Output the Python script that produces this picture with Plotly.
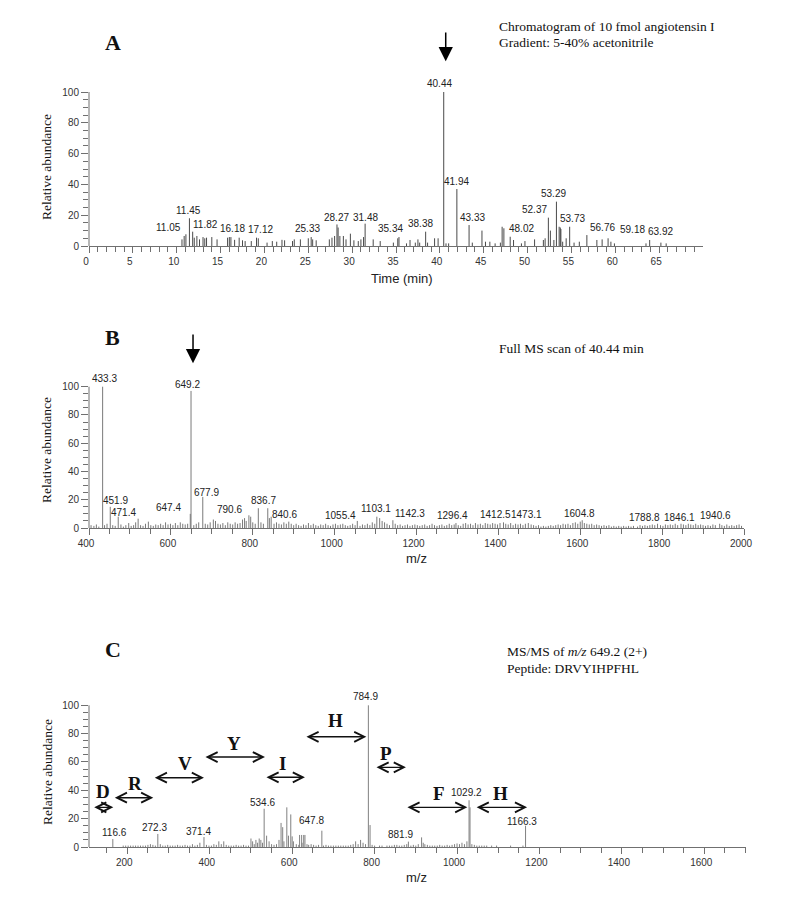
import plotly.graph_objects as go

# ---------------- data: panel A (chromatogram) ----------------
a_time = [10.6, 10.85, 11.05, 11.45, 11.82, 12.0, 12.3, 12.6, 13.0, 13.2, 13.4, 14.0, 14.6, 15.8, 16.0,
          16.18, 16.6, 17.12, 17.5, 17.8, 18.5, 19.1, 19.3, 20.3, 20.9, 21.4, 22.0, 22.3, 23.2, 23.4,
          24.1, 25.0, 25.33, 25.5, 25.9, 27.4, 27.7, 28.0, 28.27, 28.4, 28.6, 29.0, 29.3, 29.8, 30.2,
          30.7, 31.0, 31.3, 31.48, 32.4, 33.2, 34.7, 35.2, 35.34, 36.2, 36.6, 37.2, 37.5, 37.7, 38.38,
          38.6, 39.4, 39.8, 40.44, 40.7, 41.0, 41.94, 43.33, 43.7, 44.8, 45.2, 45.7, 46.3, 46.9, 47.1,
          47.3, 48.02, 48.4, 49.3, 49.7, 50.8, 51.8, 52.0, 52.37, 52.6, 53.0, 53.29, 53.6, 53.73, 53.8,
          54.0, 54.4, 54.8, 55.3, 55.9, 56.76, 57.9, 58.5, 59.18, 59.5, 59.9, 63.5, 63.92, 65.2, 65.8]
a_abund = [4.3, 6.5, 7.6, 18, 9.3, 5.4, 6.5, 4.3, 5.8, 5, 5.4, 5.8, 4.3, 5.4, 5.8,
           5.8, 4, 5.4, 3.7, 3.2, 3.2, 5.4, 5, 2.2, 3.2, 2.8, 4, 3.7, 3.2, 4.3,
           4.3, 5, 5.8, 4.3, 3.7, 4.3, 5.4, 6.5, 14, 12, 6.5, 6.5, 4.3, 8, 3.7,
           3.2, 4.3, 5.8, 14.5, 4.3, 3.2, 2.2, 5, 5.8, 1.7, 3.9, 2.2, 4.3, 2.2, 9.3,
           2.2, 5, 5, 100, 1.7, 1.7, 37, 13.6, 2.2, 10, 2.8, 2.8, 1.7, 2.2, 12.5,
           11.5, 6, 3.9, 1.7, 3.2, 4.3, 3.9, 5, 18.4, 10, 3.9, 28.8, 12.5, 12, 11,
           2.8, 5, 12.5, 2.2, 2.8, 7.1, 3.9, 4.3, 5, 2.8, 1.7, 1.7, 3.9, 2.2, 1.7]
a_labels = ["11.05", "11.45", "11.82", "16.18", "17.12", "25.33", "28.27", "31.48", "35.34", "38.38",
            "40.44", "41.94", "43.33", "48.02", "52.37", "53.29", "53.73", "56.76", "59.18", "63.92"]
a_label_y = [8.9, 20, 10.8, 8.2, 7.6, 8.2, 15.8, 15.8, 8.4, 11.5,
             102.4, 39, 15.8, 8.6, 20.6, 31, 15.1, 8.9, 7.6, 6.5]

# ---------------- data: panel B (full MS scan) ----------------
b_mz = [433.3, 451.9, 471.4, 520, 647.4, 649.2, 677.9, 703.7, 780, 790.6, 795, 813.6, 836.7, 840.6, 845,
        1055.4, 1103.1, 1142.3, 1296.4, 1412.5, 1473.1, 1604.8, 1788.8, 1846.1, 1940.6]
b_abund = [100, 15, 8, 6.6, 10, 97, 22, 6, 7, 9, 8, 14, 14, 7, 8,
           5, 8, 5.5, 3.5, 4, 3.5, 5.5, 3, 3, 3]
b_noise_mz = [405, 412, 418, 424, 438, 444, 458, 464, 478, 484, 490, 497, 503, 509, 514, 526, 532, 538, 545,
              551, 557, 563, 569, 575, 581, 587, 593, 599, 605, 611, 617, 623, 629, 635, 641, 656, 662, 668,
              684, 690, 696, 709, 715, 721, 727, 733, 739, 745, 751, 757, 763, 769, 775, 784, 800, 806, 820,
              826, 852, 858, 864, 870, 876, 882, 888, 894, 900, 906, 912, 918, 924, 930, 936, 942, 948, 954,
              960, 966, 972, 978, 984, 990, 996, 1002, 1008, 1014, 1020, 1026, 1032, 1038, 1044, 1050, 1062,
              1068, 1074, 1080, 1086, 1092, 1098, 1110, 1116, 1122, 1128, 1134, 1148, 1154, 1160, 1166, 1172,
              1178, 1184, 1190, 1196, 1202, 1208, 1214, 1220, 1226, 1232, 1238, 1244, 1250, 1256, 1262, 1268,
              1274, 1280, 1286, 1292, 1302, 1308, 1314, 1320, 1326, 1332, 1338, 1344, 1350, 1356, 1362, 1368,
              1374, 1380, 1386, 1392, 1398, 1404, 1418, 1424, 1430, 1436, 1442, 1448, 1454, 1460, 1466, 1480,
              1486, 1492, 1498, 1504, 1510, 1516, 1522, 1528, 1534, 1540, 1546, 1552, 1558, 1564, 1570, 1576,
              1582, 1588, 1594, 1600, 1610, 1616, 1622, 1628, 1634, 1640, 1646, 1652, 1658, 1664, 1670, 1676,
              1682, 1688, 1694, 1700, 1706, 1712, 1718, 1724, 1730, 1740, 1746, 1752, 1758, 1764, 1770, 1776,
              1782, 1796, 1802, 1808, 1814, 1820, 1826, 1832, 1838, 1852, 1858, 1864, 1870, 1876, 1882, 1888,
              1894, 1900, 1906, 1912, 1918, 1924, 1930, 1946, 1952, 1958, 1964, 1970, 1976, 1982, 1988, 1994]
b_noise_ab = [2, 1.5, 2.5, 1, 2, 3, 2, 1.5, 2.5, 1, 2, 3.5, 1.5, 2, 4, 2, 1.5, 3, 4.5,
              2, 1.5, 2.5, 2, 3, 2, 4, 2.5, 3, 2, 3.5, 2, 4, 3, 2.5, 3, 2, 3, 4,
              3, 2.5, 4, 5, 3, 2.5, 3.5, 2, 4, 3, 2.5, 4, 3, 3.5, 6, 5, 4, 3, 4,
              3, 3, 4, 3, 2.5, 4, 3, 4.5, 3, 2, 3, 2, 1.5, 2.5, 2, 3.5, 2, 3, 2,
              1.5, 2.5, 2, 3, 2, 1.5, 2.5, 3, 2, 2.5, 3, 2, 1.5, 2, 3, 2, 1.5,
              2.5, 2, 3, 2, 4, 3, 7, 5, 4, 3, 2, 3, 2, 2.5, 1.5, 2,
              2.5, 1.5, 2, 2.5, 2, 1.5, 2, 2.5, 1.5, 2, 3, 2, 1.5, 2, 2.5, 1.5,
              2, 3, 2, 2.5, 2, 1.5, 3, 3.5, 2.5, 3, 2, 3.5, 2.5, 3, 2, 3.5,
              3, 2.5, 3.5, 3, 2.5, 3.5, 3, 2.5, 3.5, 2, 3, 2.5, 3, 2, 3, 2.5,
              2, 1.5, 2, 1, 1.5, 1, 1.5, 2, 1.5, 2, 2.5, 2, 3, 2.5, 3, 2,
              3.5, 4, 3, 4.5, 3.5, 3, 2.5, 3, 2, 2.5, 2, 1.5, 2, 1.5, 2, 1,
              1.5, 1, 1.5, 1, 1.5, 1, 1.5, 1, 1.5, 1, 2, 1.5, 2, 1.5, 2, 2.5,
              2, 2, 1.5, 2.5, 2, 2.5, 2, 3, 2, 2.5, 2, 3, 2.5, 2, 3, 2,
              2.5, 2, 1.5, 2, 1.5, 2.5, 2, 2, 1.5, 2.5, 1.5, 2, 1.5, 2, 2.5, 1.5]
b_labels = ["433.3", "649.2", "451.9", "471.4", "647.4", "677.9", "790.6", "836.7", "840.6", "1055.4",
            "1103.1", "1142.3", "1296.4", "1412.5", "1473.1", "1604.8", "1788.8", "1846.1", "1940.6"]
b_label_y = [102.8, 98.2, 16.3, 7.6, 11.1, 22.2, 9.9, 16.3, 6.2, 5.7,
             10.4, 6.9, 5.7, 6.2, 6.2, 6.9, 4.5, 4.5, 5.7]

# ---------------- data: panel C (MS/MS) ----------------
c_mz = [164.8, 274, 386, 532, 573, 577, 587, 596.6, 600, 623, 631, 672, 784.9, 789, 882, 914,
        1029.2, 1031.5, 1166.3]
c_abund = [5.6, 9.2, 7, 27, 17, 14, 28, 23, 7.5, 8.5, 8.5, 11.5, 100, 15.5, 3.8, 6.8,
           33, 28, 15]
c_noise_mz = [190, 196, 202, 208, 214, 220, 226, 232, 238, 244, 250, 256, 262, 268, 280, 286, 292, 298,
              304, 310, 316, 322, 328, 334, 340, 346, 352, 358, 364, 370, 376, 392, 398, 404, 410, 416,
              422, 428, 434, 440, 446, 452, 458, 464, 470, 476, 482, 488, 494, 500, 504, 508, 512, 516,
              520, 524, 528, 538, 544, 550, 556, 562, 568, 580, 591, 603, 610, 616, 618, 624, 628, 636,
              640, 646, 652, 658, 664, 676, 682, 688, 694, 700, 706, 712, 718, 724, 730, 736, 742, 748,
              754, 760, 766, 772, 778, 794, 800, 812, 818, 830, 836, 842, 848, 854, 860, 866, 872, 878,
              888, 894, 900, 906, 918, 922, 928, 934, 940, 946, 952, 958, 964, 970, 976, 982, 988, 994,
              1000, 1006, 1012, 1018, 1024, 1036, 1042, 1048, 1054, 1060, 1066, 1072, 1084, 1096, 1130, 1160]
c_noise_ab = [1, 1, 1, 1, 1, 1, 1, 1, 1, 1, 1.5, 2, 1.5, 1, 2, 1, 1, 1.5,
              1, 1, 1, 1.5, 1, 1, 1.5, 1, 1, 2, 1, 1.5, 3, 1.5, 1, 1, 2, 1.5,
              4, 2, 4, 1.5, 1, 1, 1, 1.5, 1, 1, 1.5, 1, 1, 6, 4, 2, 5, 3,
              6, 5, 3, 8, 4, 2, 1.5, 2, 5, 4, 8, 4, 2, 1.5, 8.5, 3, 8.5, 2,
              1.5, 2, 1.5, 1, 1.5, 1, 1.5, 1, 1, 1, 1, 1, 1, 1, 1, 1, 1.5, 2,
              4, 2, 5, 3, 2, 1.5, 1, 1, 1, 1, 1, 1, 1.5, 1.5, 1, 1, 1.5, 2,
              1, 1.5, 1, 2, 3, 2, 1.5, 1, 1, 1, 1, 1.5, 1, 1, 1.5, 1, 1.5, 2,
              2.5, 2, 3, 2, 4, 2, 1.5, 1, 1, 1, 1, 1, 1, 1, 1, 1]
c_labels = ["116.6", "272.3", "371.4", "534.6", "647.8", "784.9", "881.9", "1029.2", "1166.3"]
c_label_y = [6.8, 10.8, 8, 28.4, 15.5, 103.2, 5.6, 35, 15]

# residues (mass-difference ladder): letter, start m/z, end m/z, abundance level
c_res = ["D", "R", "V", "Y", "I", "H", "P", "F", "H"]
c_res_from = [116, 166, 263, 386, 534, 631, 801, 876, 1044]
c_res_to = [166, 263, 386, 534, 631, 780, 876, 1025, 1170]
c_res_level = [28, 34.8, 48.9, 63.5, 49.2, 77.8, 56.2, 28, 28]

# ---------------- styles ----------------
a_label_dx = [-17, -1, 13, 2, 21, -4, 0, 0, -8, -5, -4, 0, 3, 11, -14, -3, 12, 16, 24, 11]
b_label_dx = [2, -4, 5, 5, -22, 4, -19, -4, 15, -17, -1, 17, -3, -8, -2, -3, -13, -2, -4]
c_label_dx = [22, -3, 1, -3, 0, -3, -8, -3, -4]
c_res_letter_dx = [0, 2, 6, 0, -2, 0, -4, 2, -1]
c_res_letter_dy = [11, 9.7, 10.1, 9.2, 9.8, 11.2, 9.8, 10, 10]

W, H = 796, 900
OFF = 8  # page body margin of the html page, compensated here
SANS = "Liberation Sans, Arial, sans-serif"
SERIF = "Liberation Serif, Times New Roman, serif"
AX = "#707070"


def fx(p):
    return (p - OFF) / W


def fy(p):
    return 1 - (p - OFF) / H


def sticks(xs, ys):
    X, Y = [], []
    for x, y in zip(xs, ys):
        X += [x, x, None]
        Y += [0, y, None]
    return X, Y


fig = go.Figure()
ax_ = sticks(a_time, a_abund)
fig.add_trace(go.Scatter(x=ax_[0], y=ax_[1], mode="lines", line=dict(color="#4a4a4a", width=1),
                         xaxis="x", yaxis="y", hoverinfo="skip"))
bx_ = sticks(b_noise_mz + b_mz, b_noise_ab + b_abund)
fig.add_trace(go.Scatter(x=bx_[0], y=bx_[1], mode="lines", line=dict(color="#7a7a7a", width=1),
                         xaxis="x2", yaxis="y2", hoverinfo="skip"))
cx_ = sticks(c_noise_mz + c_mz, c_noise_ab + c_abund)
fig.add_trace(go.Scatter(x=cx_[0], y=cx_[1], mode="lines", line=dict(color="#808080", width=1),
                         xaxis="x3", yaxis="y3", hoverinfo="skip"))


def xaxis(dom, rng, major, minor, anchor):
    return dict(domain=dom, range=rng, anchor=anchor, showline=True, linecolor=AX, linewidth=1,
                automargin=False,
                ticks="outside", ticklen=6, tickcolor=AX, tickwidth=1,
                tickmode="array", tickvals=major, ticktext=[str(v) for v in major],
                ticklabelshift=-3,
                tickfont=dict(family=SANS, size=10, color="#333"),
                minor=dict(tickmode="array", tickvals=minor, ticks="outside", ticklen=5,
                           tickcolor=AX, tickwidth=1, showgrid=False),
                showgrid=False, zeroline=False, fixedrange=True)


def yaxis(dom, rng, anchor):
    return dict(domain=dom, range=rng, anchor=anchor, showline=False, automargin=False,
                ticks="outside", ticklen=7, tickcolor=AX, tickwidth=1,
                tickmode="array", tickvals=[0, 20, 40, 60, 80, 100],
                tickfont=dict(family=SANS, size=10, color="#333"),
                minor=dict(tickmode="array", tickvals=[v for v in range(5, 100, 5) if v % 20],
                           ticks="outside", ticklen=5, tickcolor=AX, tickwidth=1, showgrid=False),
                showgrid=False, zeroline=False, fixedrange=True)


a_rng = [0, 70]
b_rng = [400, 2000]
c_rng = [107, 1700]
layout = dict(
    width=W, height=H, autosize=False, margin=dict(l=0, r=0, t=0, b=0, pad=0, autoexpand=False),
    showlegend=False, paper_bgcolor="white", plot_bgcolor="white",
    xaxis=xaxis([fx(89), fx(703)], a_rng, list(range(0, 70, 5)),
                [v for v in range(0, 71) if v % 5], "y"),
    yaxis=yaxis([fy(246), fy(30.4)], [0, 140], "x"),
    xaxis2=xaxis([fx(89), fx(744)], b_rng, list(range(400, 2001, 200)),
                 [v for v in range(450, 2000, 50) if v % 200], "y2"),
    yaxis2=yaxis([fy(528), fy(330.2)], [0, 140], "x2"),
    xaxis3=xaxis([fx(89), fx(745.5)], c_rng, list(range(200, 1700, 200)),
                 [v for v in range(150, 1701, 50) if v % 200], "y3"),
    yaxis3=yaxis([fy(847), fy(688.3)], [0, 112], "x3"),
)
fig.update_layout(**layout)

shapes = []
for xr, yr in (("x", "y"), ("x2", "y2"), ("x3", "y3")):
    shapes.append(dict(type="line", xref=xr + " domain", yref=yr, x0=0, x1=0, y0=0, y1=100,
                       line=dict(color=AX, width=1)))
fig.update_layout(shapes=shapes)

ann = []
lab_font = dict(family=SANS, size=10, color="#222")
for texts, ys, dxs, xr, yr in ((a_labels, a_label_y, a_label_dx, "x", "y"),
                               (b_labels, b_label_y, b_label_dx, "x2", "y2"),
                               (c_labels, c_label_y, c_label_dx, "x3", "y3")):
    for t, yv, dx in zip(texts, ys, dxs):
        ann.append(dict(x=float(t), y=yv, xref=xr, yref=yr, text=t, showarrow=False,
                        xanchor="center", yanchor="bottom", xshift=dx, yshift=-3, font=lab_font))

# vertical arrows marking selected peak / precursor
ann.append(dict(x=40.44, y=120, ax=40.44, ay=139.6, xref="x", yref="y", axref="x", ayref="y",
                text="", showarrow=True, arrowhead=2, arrowsize=1.9, arrowwidth=1.5,
                arrowcolor="black", xshift=2, standoff=0, startstandoff=0))
ann.append(dict(x=649.2, y=116.6, ax=649.2, ay=138, xref="x2", yref="y2", axref="x2", ayref="y2",
                text="", showarrow=True, arrowhead=2, arrowsize=1.9, arrowwidth=1.5,
                arrowcolor="black", xshift=2, standoff=0, startstandoff=0))

# residue ladder in C
for L, m0, m1, lv, ldx, ldy in zip(c_res, c_res_from, c_res_to, c_res_level,
                                     c_res_letter_dx, c_res_letter_dy):
    ann.append(dict(x=m1, y=lv, ax=m0, ay=lv, xref="x3", yref="y3", axref="x3", ayref="y3",
                    text="", showarrow=True, arrowside="end+start", arrowhead=5, startarrowhead=5,
                    arrowsize=1.4, startarrowsize=1.4, arrowwidth=1.4, arrowcolor="#111",
                    standoff=0, startstandoff=0))
    ann.append(dict(x=(m0 + m1) / 2, y=lv + ldy, xref="x3", yref="y3", text="<b>%s</b>" % L,
                    showarrow=False, xanchor="center", yanchor="middle", xshift=ldx,
                    font=dict(family=SERIF, size=19, color="#111")))

# panel letters, headers, axis titles
for L, yp in (("A", 43), ("B", 337), ("C", 649)):
    ann.append(dict(x=fx(113), y=fy(yp), xref="paper", yref="paper", text="<b>%s</b>" % L,
                    showarrow=False, xanchor="center", yanchor="middle",
                    font=dict(family=SERIF, size=22, color="#111")))
hdr = [("Chromatogram of 10 fmol angiotensin I", 497, 26),
       ("Gradient: 5-40% acetonitrile", 497, 42),
       ("Full MS scan of 40.44 min", 497, 349),
       ("MS/MS of <i>m/z</i> 649.2 (2+)", 505, 651),
       ("Peptide: DRVYIHPFHL", 505, 668)]
for t, xp, yp in hdr:
    ann.append(dict(x=fx(xp), y=fy(yp), xref="paper", yref="paper", text=t, showarrow=False,
                    xanchor="left", yanchor="middle", font=dict(family=SERIF, size=13.5, color="#111")))
for yp in (167, 450, 772):
    ann.append(dict(x=fx(47), y=fy(yp), xref="paper", yref="paper", text="Relative abundance",
                    textangle=-90, showarrow=False, xanchor="center", yanchor="middle",
                    font=dict(family=SERIF, size=13.5, color="#111")))
for t, xp, yp in (("Time (min)", 402, 278), ("m/z", 416, 558), ("m/z", 416, 877)):
    ann.append(dict(x=fx(xp), y=fy(yp), xref="paper", yref="paper", text=t, showarrow=False,
                    xanchor="center", yanchor="middle", font=dict(family=SANS, size=13, color="#222")))

fig.update_layout(annotations=ann)
fig.write_html("out.html")
